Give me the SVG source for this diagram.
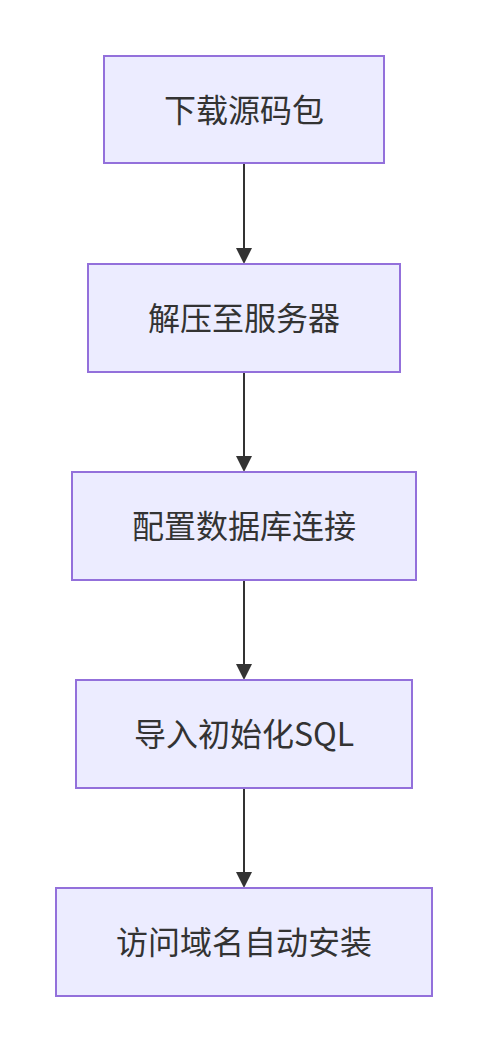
<svg xmlns="http://www.w3.org/2000/svg" width="488" height="1052" viewBox="0 0 488 1052">
<style>
.node rect{fill:#ECECFF;stroke:#9370DB;stroke-width:2}
.node text{font-family:"Noto Sans CJK SC","Noto Sans",sans-serif;font-size:32px;fill:#333;text-anchor:middle;dominant-baseline:central}
.edge{stroke:#333;stroke-width:2;fill:none}
.head{fill:#333}
</style>
<rect width="488" height="1052" fill="#fff"/>
<g id="connectors">
<line class="edge" x1="244" y1="164" x2="244" y2="250"/>
<path class="head" d="M236,248 L252,248 L244,264 Z"/>
<line class="edge" x1="244" y1="372" x2="244" y2="458"/>
<path class="head" d="M236,456 L252,456 L244,472 Z"/>
<line class="edge" x1="244" y1="580" x2="244" y2="666"/>
<path class="head" d="M236,664 L252,664 L244,680 Z"/>
<line class="edge" x1="244" y1="788" x2="244" y2="874"/>
<path class="head" d="M236,872 L252,872 L244,888 Z"/>
</g>
<g id="n1" class="node"><rect x="104" y="56" width="280" height="107"/><text x="244" y="108">下载源码包</text></g>
<g id="n2" class="node"><rect x="88" y="264" width="312" height="108"/><text x="244" y="316">解压至服务器</text></g>
<g id="n3" class="node"><rect x="72" y="472" width="344" height="108"/><text x="244" y="524">配置数据库连接</text></g>
<g id="n4" class="node"><rect x="76" y="680" width="336" height="108"/><text x="244" y="732">导入初始化SQL</text></g>
<g id="n5" class="node"><rect x="56" y="888" width="376" height="108"/><text x="244" y="940">访问域名自动安装</text></g>
</svg>
